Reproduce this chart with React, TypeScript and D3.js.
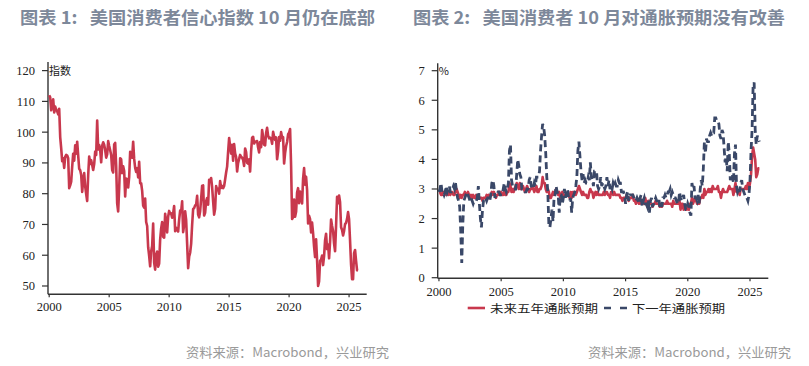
import React from "react";
import * as d3 from "d3";

// ---------- DATA ----------
const START_YEAR = 2000;

// University of Michigan consumer sentiment, monthly Jan 2000 – Oct 2025
const sentiment: number[][] = [
  [112.0, 111.3, 107.1, 109.2, 110.7, 106.4, 108.3, 107.3, 106.8, 105.8, 107.6, 98.4],
  [94.7, 90.6, 91.5, 88.4, 92.0, 92.6, 92.4, 91.5, 81.8, 82.7, 83.9, 88.8],
  [93.0, 90.7, 95.7, 93.0, 96.9, 92.4, 88.1, 87.6, 86.1, 80.6, 84.2, 86.7],
  [82.4, 79.9, 77.6, 86.0, 92.1, 89.7, 90.9, 89.3, 87.7, 89.6, 93.7, 92.6],
  [103.8, 94.4, 95.8, 94.2, 90.2, 95.6, 96.7, 95.9, 94.2, 91.7, 92.8, 97.1],
  [95.5, 94.1, 92.6, 87.7, 86.9, 96.0, 96.5, 89.1, 76.9, 74.2, 81.6, 91.5],
  [91.2, 86.7, 88.9, 87.4, 79.1, 84.9, 84.7, 82.0, 85.4, 93.6, 92.1, 91.7],
  [96.9, 91.3, 88.4, 87.1, 88.3, 85.3, 90.4, 83.4, 83.4, 80.9, 76.1, 75.5],
  [78.4, 70.8, 69.5, 62.6, 59.8, 56.4, 61.2, 63.0, 70.3, 57.6, 55.3, 60.1],
  [61.2, 56.3, 57.3, 65.1, 68.7, 70.8, 66.0, 65.7, 73.5, 70.6, 67.4, 72.5],
  [74.4, 73.6, 73.6, 72.2, 73.6, 76.0, 67.8, 68.9, 68.2, 67.7, 71.6, 74.5],
  [74.2, 77.5, 67.5, 69.8, 74.3, 71.5, 63.7, 55.8, 59.5, 60.8, 63.7, 69.9],
  [75.0, 75.3, 76.2, 76.4, 79.3, 73.2, 72.3, 74.3, 78.3, 82.6, 82.7, 72.9],
  [73.8, 77.6, 78.6, 76.4, 84.5, 84.1, 85.1, 82.1, 77.5, 73.2, 75.1, 82.5],
  [81.2, 81.6, 80.0, 84.1, 81.9, 82.5, 81.8, 82.5, 84.6, 86.9, 88.8, 93.6],
  [98.1, 95.4, 93.0, 95.9, 90.7, 96.1, 93.1, 91.9, 87.2, 90.0, 91.3, 92.6],
  [92.0, 91.7, 91.0, 89.0, 94.7, 93.5, 90.0, 89.8, 91.2, 87.2, 93.8, 98.2],
  [98.5, 96.3, 96.9, 97.0, 97.1, 95.0, 93.4, 96.8, 95.1, 100.7, 98.5, 95.9],
  [95.7, 99.7, 101.4, 98.8, 98.0, 98.2, 97.9, 96.2, 100.1, 98.6, 97.5, 98.3],
  [91.2, 93.8, 98.4, 97.2, 100.0, 98.2, 98.4, 89.8, 93.2, 95.5, 96.8, 99.3],
  [99.8, 101.0, 89.1, 71.8, 72.3, 78.1, 72.5, 74.1, 80.4, 81.8, 76.9, 80.7],
  [79.0, 76.8, 84.9, 88.3, 82.9, 85.5, 81.2, 70.3, 72.8, 71.7, 67.4, 70.6],
  [67.2, 62.8, 59.4, 65.2, 58.4, 50.0, 51.5, 58.2, 58.6, 59.9, 56.8, 59.7],
  [64.9, 67.0, 62.0, 63.5, 59.0, 64.4, 71.6, 69.5, 67.9, 63.8, 61.3, 69.7],
  [79.0, 76.9, 79.4, 77.2, 69.1, 68.2, 66.4, 67.9, 70.1, 70.5, 71.8, 74.0],
  [71.7, 64.7, 57.0, 52.2, 52.2, 60.7, 61.7, 58.2, 55.1, 55.0],
];

// 5-10 year inflation expectations (%)
const infl5y: number[][] = [
  [2.9, 2.9, 2.8, 2.8, 2.9, 2.9, 2.9, 2.8, 2.9, 2.8, 2.9, 2.8],
  [2.9, 2.9, 2.8, 2.8, 2.9, 3.0, 2.9, 2.8, 2.7, 2.8, 2.7, 2.8],
  [2.8, 2.9, 2.8, 2.8, 2.9, 2.8, 2.7, 2.8, 2.7, 2.8, 2.7, 2.7],
  [2.8, 2.7, 2.8, 2.7, 2.7, 2.7, 2.6, 2.7, 2.7, 2.7, 2.8, 2.7],
  [2.8, 2.7, 2.8, 2.9, 2.8, 2.9, 2.8, 2.7, 2.8, 2.8, 2.9, 2.8],
  [2.9, 2.8, 2.8, 2.9, 2.8, 2.8, 2.9, 2.9, 3.2, 3.1, 2.9, 3.0],
  [2.9, 3.0, 3.1, 3.2, 3.1, 3.0, 3.2, 3.0, 3.0, 3.1, 3.0, 2.9],
  [3.0, 3.1, 3.0, 2.9, 3.0, 3.0, 3.1, 3.0, 2.9, 3.0, 3.1, 2.9],
  [2.9, 3.0, 3.0, 3.1, 3.4, 3.2, 3.2, 3.0, 2.9, 3.0, 2.9, 2.7],
  [2.7, 2.8, 2.9, 2.8, 2.9, 3.0, 2.9, 2.8, 2.9, 2.7, 2.8, 2.9],
  [2.8, 2.8, 2.8, 2.8, 2.8, 2.8, 2.7, 2.9, 2.7, 2.9, 2.8, 2.9],
  [2.8, 2.9, 3.0, 3.1, 3.0, 2.9, 2.8, 2.9, 2.8, 2.8, 2.8, 2.7],
  [2.7, 2.9, 3.0, 2.9, 2.9, 2.7, 2.8, 2.9, 2.8, 2.9, 2.8, 2.8],
  [2.8, 2.8, 2.8, 2.9, 2.8, 2.9, 2.9, 2.8, 2.8, 2.7, 2.9, 2.9],
  [2.8, 2.9, 2.8, 2.8, 2.8, 2.8, 2.8, 2.7, 2.7, 2.6, 2.7, 2.7],
  [2.7, 2.8, 2.7, 2.6, 2.7, 2.7, 2.7, 2.8, 2.6, 2.6, 2.5, 2.6],
  [2.6, 2.5, 2.7, 2.5, 2.6, 2.5, 2.6, 2.7, 2.5, 2.4, 2.6, 2.5],
  [2.5, 2.5, 2.4, 2.5, 2.5, 2.6, 2.5, 2.5, 2.5, 2.4, 2.5, 2.4],
  [2.5, 2.5, 2.5, 2.5, 2.6, 2.5, 2.5, 2.5, 2.5, 2.4, 2.6, 2.5],
  [2.5, 2.5, 2.5, 2.5, 2.6, 2.3, 2.5, 2.5, 2.3, 2.4, 2.4, 2.3],
  [2.4, 2.3, 2.5, 2.5, 2.7, 2.5, 2.6, 2.7, 2.6, 2.5, 2.5, 2.5],
  [2.7, 2.7, 2.8, 2.7, 3.0, 2.8, 2.9, 2.9, 3.0, 2.9, 3.0, 2.9],
  [3.1, 3.0, 3.0, 3.0, 3.0, 3.1, 2.9, 2.9, 2.7, 2.9, 3.0, 2.9],
  [2.9, 2.9, 2.9, 3.0, 3.1, 3.0, 3.0, 3.0, 2.8, 3.0, 3.2, 2.9],
  [2.9, 2.9, 2.8, 3.0, 3.0, 3.0, 3.0, 3.0, 3.1, 3.0, 3.2, 3.0],
  [3.2, 3.5, 4.1, 4.4, 4.2, 4.0, 3.4, 3.5, 3.7, 3.7],
];

// 1-year inflation expectations (%)
const infl1y: number[][] = [
  [2.9, 3.0, 3.2, 2.9, 2.9, 2.8, 2.9, 3.1, 2.9, 3.0, 3.1, 2.9],
  [2.9, 3.0, 3.1, 3.0, 3.2, 2.9, 2.7, 2.6, 2.4, 1.6, 0.5, 1.8],
  [2.6, 2.7, 2.8, 2.9, 2.8, 2.7, 2.6, 2.7, 2.6, 2.5, 2.6, 2.6],
  [2.6, 2.7, 3.1, 2.5, 2.0, 1.7, 2.3, 2.6, 2.7, 2.7, 2.6, 2.7],
  [2.7, 2.6, 2.8, 3.2, 3.3, 3.1, 2.7, 2.8, 2.8, 2.9, 2.9, 2.8],
  [2.8, 2.8, 3.0, 3.2, 3.0, 2.9, 3.0, 3.2, 4.3, 4.5, 3.3, 3.1],
  [3.0, 3.0, 3.0, 3.5, 4.0, 3.8, 3.5, 3.4, 3.0, 3.0, 3.0, 2.9],
  [2.9, 3.0, 3.0, 3.3, 3.4, 3.1, 3.1, 3.0, 3.2, 3.1, 3.4, 3.4],
  [3.4, 3.6, 4.3, 4.8, 5.2, 5.1, 4.8, 4.2, 3.4, 2.9, 1.8, 1.7],
  [2.0, 2.3, 1.9, 2.7, 2.8, 3.1, 2.9, 2.8, 2.2, 2.8, 2.8, 2.5],
  [2.7, 3.0, 2.7, 2.9, 3.0, 2.7, 2.6, 2.7, 2.2, 2.7, 2.8, 2.9],
  [3.1, 3.4, 4.3, 4.6, 4.1, 3.6, 3.3, 3.5, 3.2, 3.3, 3.2, 3.2],
  [3.4, 3.3, 3.9, 3.4, 3.3, 3.1, 3.6, 3.6, 3.6, 3.1, 3.0, 3.1],
  [3.4, 3.1, 3.2, 3.1, 3.0, 3.1, 3.4, 3.1, 3.3, 3.0, 3.1, 3.0],
  [3.2, 3.1, 3.2, 3.1, 3.1, 3.3, 3.2, 3.2, 2.9, 2.9, 2.9, 2.8],
  [2.5, 2.8, 2.9, 2.6, 2.8, 2.8, 2.8, 2.8, 2.7, 2.6, 2.6, 2.7],
  [2.6, 2.5, 2.7, 2.8, 2.4, 2.6, 2.7, 2.5, 2.5, 2.4, 2.6, 2.2],
  [2.6, 2.7, 2.4, 2.5, 2.6, 2.7, 2.6, 2.6, 2.7, 2.4, 2.5, 2.4],
  [2.7, 2.7, 2.8, 2.7, 2.8, 2.9, 2.9, 3.0, 2.8, 2.9, 2.8, 2.7],
  [2.7, 2.6, 2.5, 2.5, 2.9, 2.7, 2.6, 2.7, 2.8, 2.5, 2.3, 2.3],
  [2.5, 2.4, 2.2, 2.1, 3.2, 3.0, 3.1, 2.7, 2.7, 2.6, 2.8, 2.5],
  [3.0, 3.3, 3.1, 3.7, 4.6, 4.2, 4.7, 4.6, 4.6, 4.8, 4.9, 4.8],
  [4.9, 4.9, 5.4, 5.4, 5.3, 5.3, 5.2, 4.8, 4.7, 5.0, 4.9, 4.4],
  [3.9, 4.1, 3.6, 4.6, 4.2, 3.3, 3.4, 3.5, 3.2, 4.2, 4.5, 3.1],
  [2.9, 3.0, 2.9, 3.2, 3.3, 3.0, 2.9, 2.8, 2.7, 2.7, 2.6, 2.8],
  [3.3, 4.3, 5.0, 6.5, 6.6, 5.0, 4.5, 4.8, 4.7, 4.6],
];

const leftYTicks = [50, 60, 70, 80, 90, 100, 110, 120];
const rightYTicks = [0, 1, 2, 3, 4, 5, 6, 7];
const xTicks = [2000, 2005, 2010, 2015, 2020, 2025];

const title1 = "图表 1:   美国消费者信心指数 10 月仍在底部";
const title2 = "图表 2:   美国消费者 10 月对通胀预期没有改善";
const source = "资料来源：Macrobond，兴业研究";
const legendNames = ["未来五年通胀预期", "下一年通胀预期"];

// ---------- HELPERS ----------
type Pt = { t: number; v: number };
const toSeries = (rows: number[][]): Pt[] =>
  rows.flatMap((row, yi) => row.map((v, m) => ({ t: START_YEAR + yi + m / 12, v })));

const RED = "#c8384d";
const NAVY = "#3a4868";
const AXIS = "#333";
const TITLE = "#7d889a";
const SERIF = "'Liberation Serif', 'Times New Roman', serif";
const SANS = "'Noto Sans CJK SC', 'Noto Sans', sans-serif";

function Axes({ x, y, yTicks, yLabel, xLabelDy }: any) {
  const [x0, x1] = x.range();
  const [yb, yt] = y.range();
  return (
    <g>
      <line x1={x0} x2={x0} y1={yb} y2={yt} stroke={AXIS} strokeWidth={1.4} />
      <line x1={x0} x2={x1} y1={yb} y2={yb} stroke={AXIS} strokeWidth={1.4} />
      {yTicks.map((t: number) => (
        <g key={"y" + t}>
          <line x1={x0 - 6} x2={x0} y1={y(t)} y2={y(t)} stroke={AXIS} strokeWidth={1.2} />
          <text x={x0 - 13} y={y(t)} dy="0.35em" textAnchor="end" fontFamily={SERIF} fontSize={12.5} fill="#222">
            {t}
          </text>
        </g>
      ))}
      {xTicks.map((t) => (
        <g key={"x" + t}>
          <line x1={x(t)} x2={x(t)} y1={yb} y2={yb + 3} stroke={AXIS} strokeWidth={1.2} />
          <text x={x(t)} y={yb + xLabelDy} textAnchor="middle" fontFamily={SERIF} fontSize={12.5} fill="#222">
            {t}
          </text>
        </g>
      ))}
      <text x={x0 + 1} y={y(yTicks[yTicks.length - 1]) + 4} fontFamily={SANS} fontSize={11} fill="#222">
        {yLabel}
      </text>
    </g>
  );
}

export default function App() {
  const sent = toSeries(sentiment);
  const s5 = toSeries(infl5y);
  const s1 = toSeries(infl1y);

  const domainX: [number, number] = [1999.9, 2026.47];
  const xL = d3.scaleLinear().domain(domainX).range([48, 366.7]);
  const yL = d3.scaleLinear().domain([47.3, 122.8]).range([294.3, 62]);
  const xR = d3.scaleLinear().domain(domainX).range([437.7, 768.3]);
  const yR = d3.scaleLinear().domain([-0.02, 7.25]).range([278.3, 63.3]);

  const lineL = d3.line<Pt>().x((d) => xL(d.t)).y((d) => yL(d.v));
  const lineR = d3.line<Pt>().x((d) => xR(d.t)).y((d) => yR(d.v));

  const pre = { whiteSpace: "pre" } as React.CSSProperties;

  return (
    <svg width={809} height={366} style={{ display: "block", position: "absolute", left: 0, top: 0, background: "#fff" }}>
      <rect width={809} height={366} fill="#fff" />
      <text x={20} y={24} style={pre} fontFamily={SANS} fontWeight={700} fontSize={17.5} fill={TITLE} textLength={355} lengthAdjust="spacingAndGlyphs">
        {title1}
      </text>
      <text x={413} y={24} style={pre} fontFamily={SANS} fontWeight={700} fontSize={17.5} fill={TITLE} textLength={372} lengthAdjust="spacingAndGlyphs">
        {title2}
      </text>

      {/* left chart */}
      <Axes x={xL} y={yL} yTicks={leftYTicks} yLabel="指数" xLabelDy={16.5} />
      <path d={lineL(sent) || ""} fill="none" stroke={RED} strokeWidth={2.6} strokeLinejoin="round" />

      {/* right chart */}
      <Axes x={xR} y={yR} yTicks={rightYTicks} yLabel="%" xLabelDy={17.5} />
      <path d={lineR(s5) || ""} fill="none" stroke={RED} strokeWidth={2.6} strokeLinejoin="round" />
      <path d={lineR(s1) || ""} fill="none" stroke={NAVY} strokeWidth={2.8} strokeDasharray="7,4" />

      {/* legend */}
      <line x1={467.7} x2={485} y1={308} y2={308} stroke={RED} strokeWidth={2.6} />
      <text x={490} y={313} fontFamily={SANS} fontSize={11.5} fill="#222" textLength={108} lengthAdjust="spacingAndGlyphs">
        {legendNames[0]}
      </text>
      <line x1={604} x2={627} y1={308} y2={308} stroke={NAVY} strokeWidth={2.6} strokeDasharray="7,9" />
      <text x={632} y={313} fontFamily={SANS} fontSize={11.5} fill="#222" textLength={93} lengthAdjust="spacingAndGlyphs">
        {legendNames[1]}
      </text>

      {/* sources */}
      <text x={186} y={357} fontFamily={SANS} fontSize={13} fill="#9a9a9a" textLength={203} lengthAdjust="spacingAndGlyphs">
        {source}
      </text>
      <text x={588} y={357} fontFamily={SANS} fontSize={13} fill="#9a9a9a" textLength={203} lengthAdjust="spacingAndGlyphs">
        {source}
      </text>
    </svg>
  );
}
